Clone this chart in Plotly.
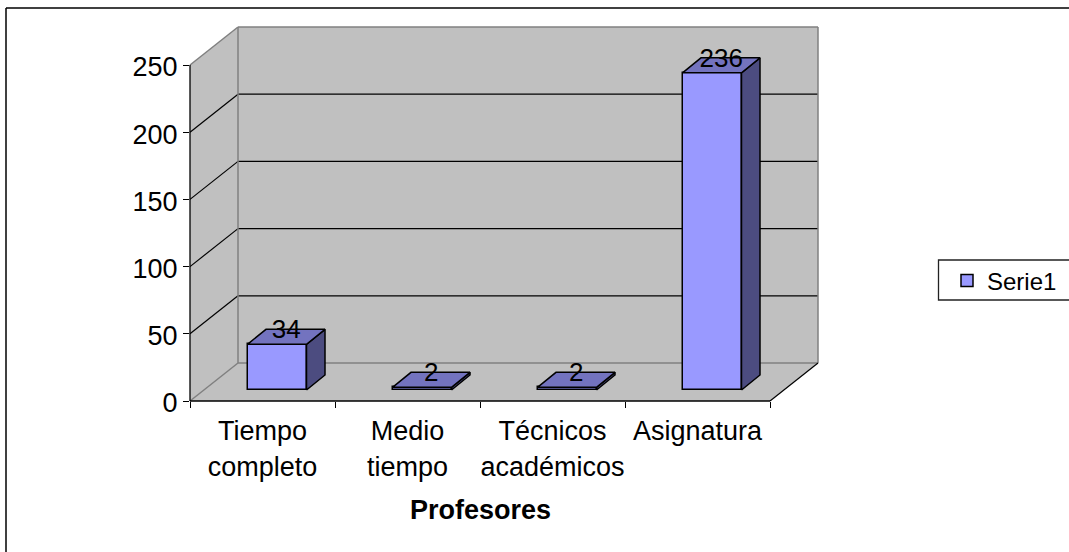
import plotly.graph_objects as go

# ---- data ----
CATEGORIES = ["Tiempo<br>completo", "Medio<br>tiempo", "Técnicos<br>académicos", "Asignatura"]
VALUES = [34, 2, 2, 236]
SERIES_NAME = "Serie1"
Y_TICKS = [0, 50, 100, 150, 200, 250]
X_TITLE = "Profesores"

# ---- geometry (pixels) ----
W, H = 1069, 552
L, R, T, B = 190, 770, 65, 401     # front plane of the 3-D box
WALL_DX, WALL_DY = 48, 38          # floor depth offset
PX_PER_CAT = (R - L) / len(CATEGORIES)
Y_MAX = Y_TICKS[-1]
PX_PER_UNIT = (B - T) / Y_MAX
BAR_INSET_X, BAR_INSET_Y = 14.5, 11  # bar front relative to the front edge of the floor
BAR_DX, BAR_DY = 18.5, 15            # bar depth offset
BAR_W = 59
LABEL_DROP = 2.5                     # value labels sit slightly below the bar's back edge

FRONT, TOP, SIDE = "#9999FF", "#7373BF", "#4C4C80"
WALL, WALL_EDGE = "#C0C0C0", "#808080"
FONT = "Liberation Sans, Arial, sans-serif"


def cx(px):
    return px / PX_PER_CAT


def cy(px):
    return px / PX_PER_UNIT


PLOT_R, PLOT_T = R + WALL_DX, T - WALL_DY
X_END = cx(PLOT_R - L)
Y_END = cy(B - PLOT_T)


def px_to_paper_x(px):
    return (px - L) / (PLOT_R - L)


def px_to_paper_y(px):
    return (B - px) / (B - PLOT_T)


def dat_x(v):
    return v / X_END


def dat_y(v):
    return v / Y_END


def poly(points):
    return "M " + " L ".join(f"{x:.5f},{y:.5f}" for x, y in points) + " Z"


def line_shape(p0, p1, color, width=1.2):
    return dict(type="line", xref="paper", yref="paper", layer="below",
                x0=p0[0], y0=p0[1], x1=p1[0], y1=p1[1],
                line=dict(color=color, width=width))


n = len(CATEGORIES)
fx0, fx1 = dat_x(0), dat_x(n)       # front-plane x
bx0, bx1 = dat_x(cx(WALL_DX)), 1.0  # back-plane x
by0 = dat_y(cy(WALL_DY))
ftop = dat_y(Y_MAX)
btop = 1.0

shapes = [dict(type="path", xref="paper", yref="paper", layer="below", line=dict(width=0),
               fillcolor=WALL,
               path=poly([(fx0, 0), (fx1, 0), (bx1, by0), (bx1, btop), (bx0, btop), (fx0, ftop)]))]
for t in Y_TICKS[1:-1]:
    f = dat_y(t)
    shapes.append(line_shape((fx0, f), (bx0, f + by0), "#000000"))
    shapes.append(line_shape((bx0, f + by0), (bx1, f + by0), "#000000"))
shapes += [
    line_shape((fx0, ftop), (bx0, btop), WALL_EDGE, 1.5),
    line_shape((bx0, btop), (bx1, btop), WALL_EDGE, 1.5),
    line_shape((bx1, btop), (bx1, by0), WALL_EDGE, 1.5),
    line_shape((bx0, btop), (bx0, by0), WALL_EDGE, 1.5),
    line_shape((bx0, by0), (bx1, by0), WALL_EDGE, 1.5),
    line_shape((fx0, 0), (bx0, by0), WALL_EDGE, 1.5),
    line_shape((fx1, 0), (bx1, by0), "#000000", 1.2),
    # front axes
    line_shape((fx0, 0), (fx1, 0), "#000000", 1.3),
    line_shape((fx0, 0), (fx0, ftop), "#000000", 1.3),
    # outer chart frame (left and top only; it runs off the picture)
    line_shape((px_to_paper_x(6), px_to_paper_y(8)), (px_to_paper_x(W + 2), px_to_paper_y(8)), "#000000", 1.5),
    line_shape((px_to_paper_x(6), px_to_paper_y(8)), (px_to_paper_x(6), px_to_paper_y(H + 2)), "#000000", 1.5),
    # legend box
    dict(type="rect", xref="paper", yref="paper", layer="below",
         x0=px_to_paper_x(938.5), x1=px_to_paper_x(W + 2),
         y0=px_to_paper_y(300), y1=px_to_paper_y(260),
         fillcolor="white", line=dict(color="#222222", width=1.3)),
]

positions = list(range(n))
centers = [i + 0.5 + cx(BAR_INSET_X) for i in positions]
base = cy(BAR_INSET_Y)
half = cx(BAR_W) / 2
ddx, ddy = cx(BAR_DX), cy(BAR_DY)

side_x, side_y, top_x, top_y = [], [], [], []
for c, v in zip(centers, VALUES):
    r = c + half
    l = c - half
    t = base + v
    side_x += [r, r + ddx, r + ddx, r, r, None]
    side_y += [base, base + ddy, t + ddy, t, base, None]
    top_x += [l, r, r + ddx, l + ddx, l, None]
    top_y += [t, t, t + ddy, t + ddy, t, None]

fig = go.Figure()
fig.add_trace(go.Bar(x=centers, y=VALUES, base=base, width=cx(BAR_W), name=SERIES_NAME,
                     marker=dict(color=FRONT, line=dict(color="#000000", width=1.5)),
                     showlegend=True, hoverinfo="y"))
fig.add_trace(go.Scatter(x=side_x, y=side_y, mode="lines", fill="toself", fillcolor=SIDE,
                         line=dict(color="#000000", width=1.5), showlegend=False, hoverinfo="skip"))
fig.add_trace(go.Scatter(x=top_x, y=top_y, mode="lines", fill="toself", fillcolor=TOP,
                         line=dict(color="#000000", width=1.5), showlegend=False, hoverinfo="skip"))
fig.add_trace(go.Scatter(x=[c + ddx / 2 for c in centers],
                         y=[base + v + ddy - cy(LABEL_DROP) for v in VALUES],
                         mode="text", text=[str(v) for v in VALUES],
                         textposition="middle center",
                         textfont=dict(family=FONT, size=26, color="#000000"),
                         showlegend=False, hoverinfo="skip", cliponaxis=False))

fig.update_layout(
    width=W, height=H, autosize=False,
    margin=dict(l=L, r=W - PLOT_R, t=PLOT_T, b=H - B, pad=0),
    paper_bgcolor="white", plot_bgcolor="rgba(0,0,0,0)",
    font=dict(family=FONT, size=27, color="#000000"),
    shapes=shapes,
    bargap=0,
    legend=dict(xref="container", yref="container", x=947 / W, y=(H - 281) / H,
                xanchor="left", yanchor="middle",
                bgcolor="rgba(0,0,0,0)", borderwidth=0,
                font=dict(family=FONT, size=24, color="#000000")),
    xaxis=dict(range=[0, X_END], tickmode="array",
               tickvals=[i + 0.5 for i in positions], ticktext=CATEGORIES,
               ticks="outside", ticklen=6, tickcolor="rgba(0,0,0,0)", tickwidth=1,
               minor=dict(tickmode="linear", tick0=0, dtick=1, ticks="outside",
                          ticklen=6, tickcolor="#000000", tickwidth=1),
               showgrid=False, zeroline=False, showline=False, tickangle=0),
    yaxis=dict(range=[0, Y_END], tickmode="array", tickvals=Y_TICKS,
               ticks="outside", ticklen=6, tickcolor="#000000", tickwidth=1,
               ticklabelshift=2,
               showgrid=False, zeroline=False, showline=False),
    annotations=[dict(text=f"<b>{X_TITLE}</b>", x=n / 2, xref="x", y=px_to_paper_y(510), yref="paper",
                      xanchor="center", yanchor="middle", showarrow=False,
                      font=dict(family=FONT, size=27, color="#000000"))],
)
fig.write_html("out.html", config=dict(displayModeBar=False),
               post_script="document.body.style.margin='0';document.documentElement.style.overflow='hidden';")
